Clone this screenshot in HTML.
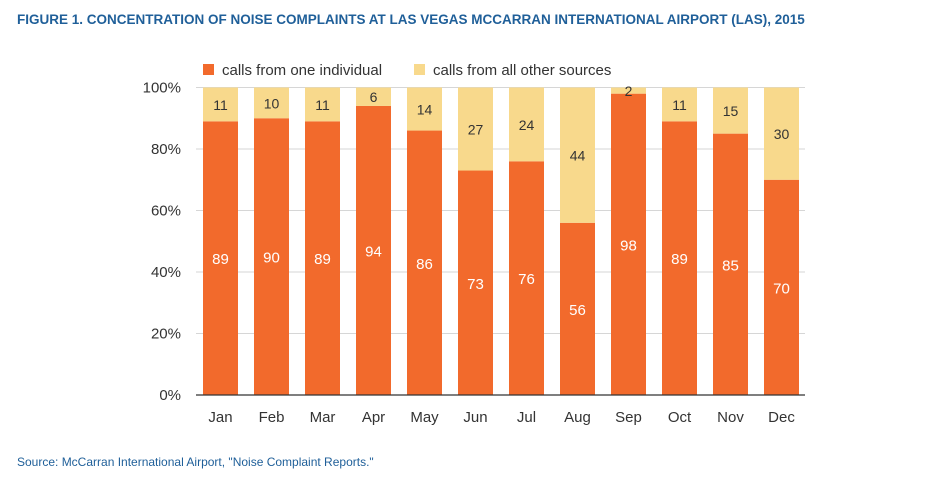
<!DOCTYPE html>
<html><head><meta charset="utf-8"><style>
body{margin:0;background:#fff;width:940px;height:487px;overflow:hidden;font-family:"Liberation Sans",sans-serif}
svg text{font-family:"Liberation Sans",sans-serif}
</style></head><body>
<svg width="940" height="487">
<text x="17" y="24" font-size="13.5" font-weight="bold" fill="#1f5f99">FIGURE 1. CONCENTRATION OF NOISE COMPLAINTS AT LAS VEGAS MCCARRAN INTERNATIONAL AIRPORT (LAS), 2015</text>
<rect x="203" y="64" width="11" height="11" fill="#f26a2c"/>
<text x="222" y="75" font-size="15" fill="#333">calls from one individual</text>
<rect x="414" y="64" width="11" height="11" fill="#f8d98c"/>
<text x="433" y="75" font-size="15" fill="#333">calls from all other sources</text>
<g id="grid"></g><g id="bars"></g><g id="axes"></g>
<text x="17" y="466" font-size="12" fill="#1f5f99">Source: McCarran International Airport, "Noise Complaint Reports."</text>
</svg>
<script>
const months=["Jan","Feb","Mar","Apr","May","Jun","Jul","Aug","Sep","Oct","Nov","Dec"];
const individual=[89,90,89,94,86,73,76,56,98,89,85,70];
const others=[11,10,11,6,14,27,24,44,2,11,15,30];
const ticks=[0,20,40,60,80,100];
const NS="http://www.w3.org/2000/svg";
const x0=196,x1=805,yb=395,yt=87.5,step=51,bw=35;
const y=v=>yb-(yb-yt)*v/100;
const xc=i=>220.5+i*step;
function mk(t,a,p){const e=document.createElementNS(NS,t);for(const k in a)e.setAttribute(k,a[k]);p.appendChild(e);return e;}
const grid=document.getElementById('grid'),bars=document.getElementById('bars'),axes=document.getElementById('axes');
ticks.forEach(t=>{
 if(t>0){const l=mk('line',{x1:x0,x2:x1,y1:y(t),y2:y(t),stroke:'#d6d6d6','stroke-width':1},grid);
 
 }
 const tx=mk('text',{x:181,y:y(t)+5,'font-size':15,fill:'#333','text-anchor':'end'},axes);tx.textContent=t+'%';
 
 
});
months.forEach((m,i)=>{
 const a=individual[i],b=others[i];
 const r1=mk('rect',{x:xc(i)-bw/2,y:y(a),width:bw,height:yb-y(a),fill:'#f26a2c'},bars);
 
 
 const r2=mk('rect',{x:xc(i)-bw/2,y:y(a+b),width:bw,height:y(a)-y(a+b),fill:'#f8d98c'},bars);
 
 
 const t1=mk('text',{x:xc(i),y:(y(a)+yb)/2+6,'font-size':15,fill:'#fff','text-anchor':'middle'},bars);t1.textContent=a;
 
 
 const t2=mk('text',{x:xc(i),y:(y(a)+y(a+b))/2+5.5,'font-size':14,fill:'#333','text-anchor':'middle'},bars);t2.textContent=b;
 
 
 const tm=mk('text',{x:xc(i),y:422,'font-size':15,fill:'#333','text-anchor':'middle'},axes);tm.textContent=m;
 
 
});
const ax=mk('line',{x1:x0,x2:x1,y1:yb,y2:yb,stroke:'#333','stroke-width':1.2},axes);


</script>
</body></html>
